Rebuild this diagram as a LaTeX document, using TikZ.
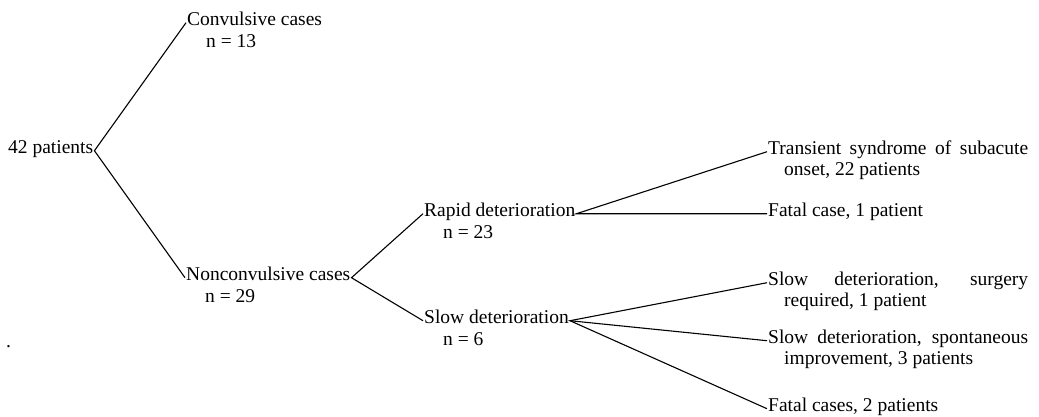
\documentclass[tikz,border=0pt]{standalone}
\usepackage{fontspec}
\setmainfont{Liberation Serif}
\begin{document}
\begin{tikzpicture}[x=1pt,y=-1pt]
    \tikzstyle{txt}=[anchor=base west,inner sep=1pt,font=\fontsize{19.5}{21}\selectfont]
    \tikzstyle{leaf}=[txt,text width=260pt,align=justify]
    \tikzstyle{branch}=[draw=black,line width=1.1pt]
    \useasboundingbox (0,0) rectangle (1039,416);
    % root and first split
    \node[txt] (pat) at (7,153){42 patients};
    \node[txt] (cv) at (186,25){Convulsive cases};
    \node[txt] (cvn) at (205,47){n = 13};
    \node[txt] (ncv) at (185,280){Nonconvulsive cases};
    \node[txt] (ncvn) at (204,302){n = 29};
    \node[txt] (dot) at (5,347){.};
    % second split
    \node[txt] (rap) at (423,216){Rapid deterioration};
    \node[txt] (rapn) at (442,238){n = 23};
    \node[txt] (slw) at (423,323){Slow deterioration};
    \node[txt] (slwn) at (442,345){n = 6};
    % outcomes
    \node[leaf] (trans) at (767,154){Transient syndrome of subacute\linebreak\hspace*{16pt}onset, 22 patients};
    \node[txt] (fat1) at (767,216){Fatal case, 1 patient};
    \node[leaf] (surg) at (767,285){Slow deterioration, surgery\linebreak\hspace*{16pt}required, 1 patient};
    \node[leaf] (spon) at (767,343){Slow deterioration, spontaneous\linebreak\hspace*{16pt}improvement, 3 patients};
    \node[txt] (fat2) at (767,411){Fatal cases, 2 patients};
    \draw[branch] (cv.mid west) -- (pat.mid east) -- (ncv.mid west);
    \draw[branch] (rap.mid west) -- (ncv.mid east) -- (slw.mid west);
    \draw[branch] (trans.mid west) -- (rap.mid east) -- (fat1.mid west);
    \draw[branch] (surg.mid west) -- (slw.mid east) -- (fat2.mid west);
    \draw[branch] (slw.mid east) -- (spon.mid west);
  \end{tikzpicture}
\end{document}
